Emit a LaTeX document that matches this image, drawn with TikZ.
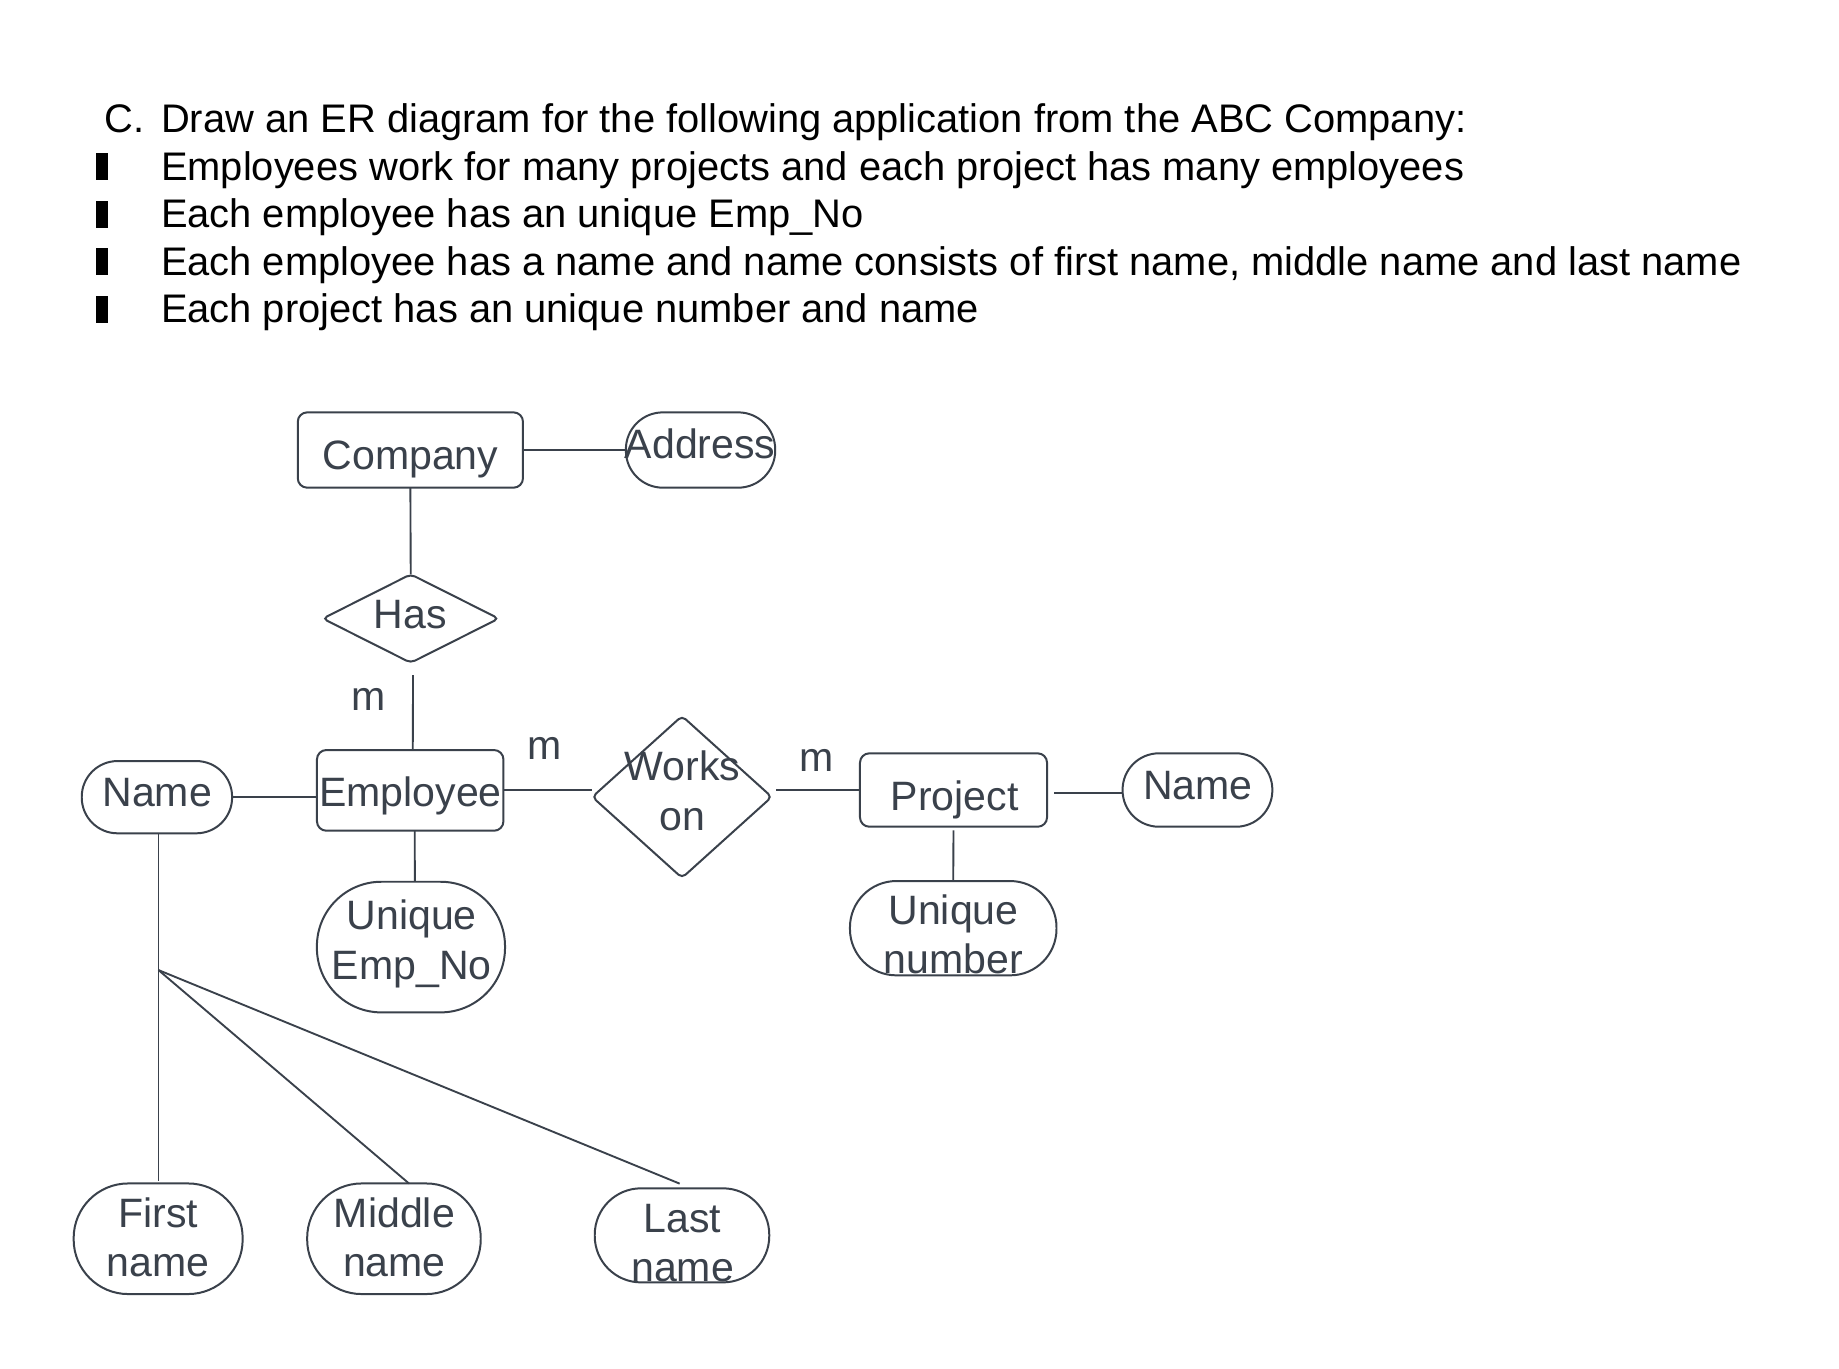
\documentclass[tikz,border=0pt]{standalone}
\usepackage{fontspec}
\setmainfont{Liberation Sans}
\usetikzlibrary{shapes.geometric}
\definecolor{ink}{RGB}{58,65,75}
\begin{document}
\begin{tikzpicture}[x=1pt,y=-1pt,
  shp/.style={draw=ink, line width=1.7pt, inner sep=0pt, outer sep=0pt},
  ent/.style={shp, rectangle, rounded corners=8pt},
  attr/.style={shp, rectangle, rounded corners=#1},
  rel/.style={shp, diamond, rounded corners=4pt},
  conn/.style={draw=ink, line width=1.6pt},
  txt/.style={inner sep=0pt, outer sep=0pt, text=ink, anchor=base, align=center,
    font=\fontsize{35pt}{42pt}\selectfont},
  ttl/.style={inner sep=0pt, outer sep=0pt, text=black, anchor=base west,
    font=\fontsize{34pt}{41pt}\selectfont}]
\useasboundingbox[fill=white] (0,0) rectangle (1568,1167);

% ---- title ----
\node[ttl] (tc) at (89.5,113) {C.};
\node[ttl] (t1) at (137.3,113) {Draw an ER diagram for the following application from the ABC Company:};
\node[ttl] (t2) at (137.3,153.5) {Employees work for many projects and each project has many employees};
\node[ttl] (t3) at (137.3,194) {Each employee has an unique Emp\_No};
\node[ttl] (t4) at (137.3,234.5) {Each employee has a name and name consists of first name, middle name and last name};
\node[ttl] (t5) at (137.3,275) {Each project has an unique number and name};
\foreach \b in {153.5,194,234.5,275}{\fill[black] (82,\b-22.7) rectangle (92,\b);}

% ---- shapes ----
\node[ent, minimum width=192pt, minimum height=64.2pt] (company) at (349.9,383.7) {};
\node[attr=31.5pt, minimum width=127.3pt, minimum height=64.2pt] (address) at (597.3,383.7) {};
\node[rel, minimum width=150pt, minimum height=75.4pt] (has) at (350.2,527.4) {};
\node[ent, minimum width=159pt, minimum height=68.8pt] (employee) at (349.75,673.9) {};
\node[attr=30.5pt, minimum width=128.2pt, minimum height=61.6pt] (namel) at (133.8,679.7) {};
\node[rel, minimum width=153pt, minimum height=138pt] (works) at (581.5,679.5) {};
\node[ent, minimum width=159.5pt, minimum height=62.6pt] (project) at (813,673.6) {};
\node[attr=31pt, minimum width=127.7pt, minimum height=62.6pt] (namer) at (1021,673.6) {};
\node[attr=55pt, minimum width=160.4pt, minimum height=111.4pt] (uemp) at (350.4,807.5) {};
\node[attr=39.5pt, minimum width=176.1pt, minimum height=80.4pt] (unum) at (812.75,791.4) {};
\node[attr=46.5pt, minimum width=144.1pt, minimum height=94.3pt] (first) at (134.85,1056.2) {};
\node[attr=46.5pt, minimum width=148pt, minimum height=94.3pt] (middle) at (335.9,1056.2) {};
\node[attr=39.5pt, minimum width=148.8pt, minimum height=80.2pt] (last) at (581.5,1053.3) {};

% ---- texts (base anchor = baseline of the last line) ----
\node[txt] (lcompany) at (350,400.2) {Company};
\node[txt] (laddress) at (597,390.8) {Address};
\node[txt] (lhas) at (350,535.7) {Has};
\node[txt] (lnamel) at (134,687.8) {Name};
\node[txt] (lemployee) at (350,687.8) {Employee};
\node[txt] (lworks) at (582,707.7) {Works\\on};
\node[txt] (lproject) at (814,690.7) {Project};
\node[txt] (lnamer) at (1021.5,682.1) {Name};
\node[txt] (luemp) at (351,834.8) {Unique\\Emp\_No};
\node[txt] (lunum) at (813,829.9) {Unique\\number};
\node[txt] (lfirst) at (135,1088.6) {First\\name};
\node[txt] (lmiddle) at (336.3,1088.6) {Middle\\name};
\node[txt] (llast) at (582,1092.8) {Last\\name};
\node[txt] (m1) at (314.5,605.4) {m};
\node[txt] (m2) at (464,647.4) {m};
\node[txt] (m3) at (696.5,658) {m};

% ---- connectors ----
\draw[conn] (company.east) -- (address.west);
\draw[conn] (company.south) -- (has.north);
\draw[conn, shorten <=10.5pt] ([xshift=2pt]has.south) -- ([xshift=2.2pt]employee.north);
\draw[conn] (namel.east) -- (namel.east -| employee.west);
\draw[conn] (employee.east) -- (employee.east -| works.west);
\draw[conn, shorten >=3.5pt] (project.west) -- (project.west -| works.east);
\draw[conn, shorten <=6pt] ([yshift=-2.8pt]project.east) -- ([yshift=-2.8pt]namer.west);
\draw[conn, shorten <=3pt] (project.south) -- (unum.north);
\draw[conn] ([xshift=3.9pt]employee.south) -- ([xshift=3.3pt]uemp.north);
\coordinate (br) at (135.1,827.1);
\draw[conn] (namel.south -| br) -- (br) -- ([yshift=2pt]first.north -| br);
\draw[conn] (br) -- ([xshift=12.8pt]middle.north);
\draw[conn] (br) -- ([xshift=-2pt,yshift=4pt]last.north);
\end{tikzpicture}
\end{document}
